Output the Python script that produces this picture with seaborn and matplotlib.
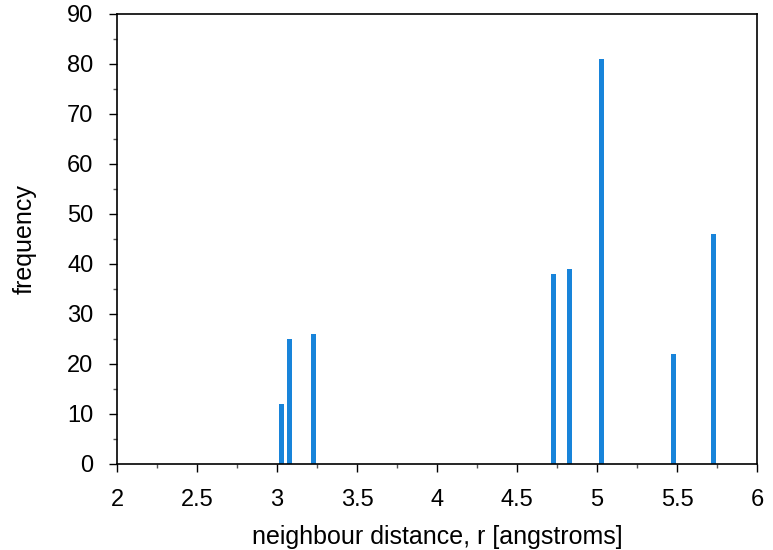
import matplotlib
matplotlib.use("Agg")
import matplotlib.pyplot as plt
import seaborn as sns
import pandas as pd
from matplotlib.ticker import MultipleLocator, FuncFormatter

distance = [3.03, 3.08, 3.23, 4.73, 4.83, 5.03, 5.48, 5.73]
frequency = [12, 25, 26, 38, 39, 81, 22, 46]

sns.set_theme(style="white")
plt.rcParams['font.family'] = ['Liberation Sans', 'DejaVu Sans']

df = pd.DataFrame({"r": distance, "freq": frequency})

fig = plt.figure(figsize=(7.73, 5.5), dpi=100)
ax = fig.add_axes([117/773, 1-464/550, (757-117)/773, (464-14)/550])

sns.barplot(data=df, x="r", y="freq", native_scale=True, width=0.6,
            color="#1884DA", saturation=1, ax=ax, edgecolor="none")

ax.set_xlim(2, 6)
ax.set_ylim(0, 90)
ax.xaxis.set_major_locator(MultipleLocator(0.5))
ax.xaxis.set_minor_locator(MultipleLocator(0.25))
ax.yaxis.set_major_locator(MultipleLocator(10))
ax.yaxis.set_minor_locator(MultipleLocator(5))
ax.xaxis.set_major_formatter(FuncFormatter(lambda v, p: f"{v:g}"))
ax.tick_params(axis="both", which="major", direction="out", length=6, width=1,
               color="black", labelsize=17, labelcolor="black",
               bottom=True, left=True, top=False, right=False)
ax.tick_params(axis="x", which="major", pad=12)
ax.tick_params(axis="y", which="major", pad=11)
ax.tick_params(axis="both", which="minor", direction="out", length=3, width=1,
               color="#555555", bottom=True, left=True, top=False, right=False)
for s in ax.spines.values():
    s.set_color("black")
    s.set_linewidth(1.2)
    s.set_visible(True)

ax.set_xlabel("neighbour distance, r [angstroms]", fontsize=18, color="black", labelpad=10)
ax.set_ylabel("frequency", fontsize=18, color="black", labelpad=22)

fig.savefig("out.png", dpi=100)
